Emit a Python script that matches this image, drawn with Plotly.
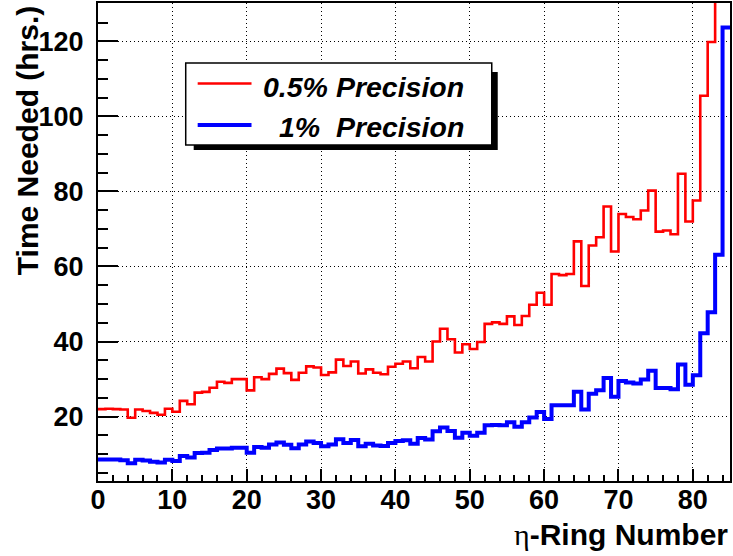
import plotly.graph_objects as go

# ---- data ----
ring_edges = list(range(0, 86))  # bin edges 0..85, one bin per eta-ring
time_05pct = [22.0, 22.1, 22.0, 21.9, 19.7, 21.9, 21.5, 21.0, 20.5, 22.1,
              21.3, 24.2, 23.3, 26.4, 26.6, 27.7, 29.3, 29.0, 30.0, 30.0,
              27.0, 30.5, 30.0, 31.4, 32.8, 31.6, 29.8, 31.7, 33.4, 33.1,
              31.1, 31.8, 35.2, 33.5, 34.7, 31.5, 32.6, 31.7, 31.3, 33.3,
              34.1, 34.7, 32.9, 35.9, 34.7, 40.0, 43.4, 40.6, 37.1, 39.3,
              38.0, 39.9, 44.7, 45.1, 44.7, 46.7, 44.4, 46.8, 49.8, 53.0,
              49.8, 58.0, 57.7, 58.0, 66.7, 54.8, 65.6, 67.8, 76.0, 64.0,
              74.0, 73.2, 72.6, 74.9, 80.2, 69.3, 69.6, 68.6, 84.7, 72.0,
              77.6, 105.5, 119.8, 158.0, 310.0]
time_1pct = [8.6, 8.6, 8.6, 8.4, 7.6, 8.5, 8.3, 8.0, 7.8, 8.5,
             8.2, 9.5, 9.1, 10.3, 10.4, 11.1, 11.5, 11.5, 11.7, 11.7,
             10.4, 11.9, 11.7, 12.6, 13.1, 12.5, 11.6, 12.6, 13.4, 13.0,
             12.1, 12.6, 14.0, 13.0, 13.8, 12.1, 12.8, 12.3, 12.2, 13.0,
             13.5, 13.7, 12.8, 14.3, 13.9, 16.1, 17.1, 16.2, 14.4, 15.7,
             14.9, 15.7, 17.7, 17.8, 17.7, 18.5, 17.3, 18.5, 19.8, 21.2,
             19.4, 23.0, 23.0, 23.0, 26.6, 21.9, 26.1, 27.0, 30.3, 25.3,
             29.5, 29.1, 28.8, 29.9, 32.2, 27.6, 27.6, 27.3, 33.9, 28.5,
             31.0, 42.2, 47.8, 63.1, 123.7]
series_names = ["0.5% Precision", "1%  Precision"]
x_ticks = [0, 10, 20, 30, 40, 50, 60, 70, 80]
y_ticks = [20, 40, 60, 80, 100, 120]

W, H = 733, 556
ML, MR, MT, MB = 98, 1, 3, 75
PW, PH = W - ML - MR, H - MT - MB

def px(xp):
    return (xp - ML) / PW

def py(yp):
    return (H - MB - yp) / PH

FONT = "Liberation Sans, Arial, Helvetica, sans-serif"

fig = go.Figure()
fig.add_trace(go.Scatter(x=ring_edges, y=time_05pct + [time_05pct[-1]],
                         mode="lines", line=dict(color="#ff0000", width=2.6, shape="hv"),
                         name=series_names[0], showlegend=False))
fig.add_trace(go.Scatter(x=ring_edges, y=time_1pct + [time_1pct[-1]],
                         mode="lines", line=dict(color="#0000ff", width=4, shape="hv"),
                         name=series_names[1], showlegend=False))

axis_common = dict(
    showline=True, linecolor="black", linewidth=2, mirror=True,
    showgrid=True, gridcolor="black", gridwidth=1, griddash="1px,3px",
    zeroline=False, ticks="inside", tickcolor="black", tickwidth=1.5,
    tickfont=dict(family=FONT, size=27, color="black", weight="bold"),
)

fig.update_layout(
    width=W, height=H,
    margin=dict(l=ML, r=MR, t=MT, b=MB),
    paper_bgcolor="white", plot_bgcolor="white",
    xaxis=dict(range=[0, 85], tickvals=x_ticks, ticklen=12,
               minor=dict(dtick=2, tick0=0, ticklen=6, ticks="inside",
                          tickcolor="black", tickwidth=1.5, showgrid=False),
               ticklabelstandoff=-6, **axis_common),
    yaxis=dict(range=[2.85, 130.2], tickvals=y_ticks, ticklen=20,
               minor=dict(dtick=5, tick0=0, ticklen=10, ticks="inside",
                          tickcolor="black", tickwidth=1.5, showgrid=False),
               ticklabelstandoff=7, **axis_common),
)

# axis titles
fig.add_annotation(text='<span style="font-family:Liberation Serif, DejaVu Serif, serif;'
                        'font-weight:normal">η</span>-Ring Number',
                   xref="paper", yref="paper",
                   x=1.0, y=py(534), xanchor="right", yanchor="middle", showarrow=False,
                   font=dict(family=FONT, size=30, color="black", weight="bold"))
fig.add_annotation(text="Time Needed (hrs.)", xref="paper", yref="paper",
                   x=px(27), y=1.0, xanchor="center", yanchor="top", textangle=-90,
                   showarrow=False,
                   font=dict(family=FONT, size=30, color="black", weight="bold"))

# legend box with shadow
fig.add_shape(type="rect", xref="paper", yref="paper",
              x0=px(194), x1=px(499), y0=py(150), y1=py(72),
              fillcolor="black", line=dict(width=0), layer="above")
fig.add_shape(type="rect", xref="paper", yref="paper",
              x0=px(186), x1=px(493), y0=py(145), y1=py(63),
              fillcolor="white", line=dict(color="black", width=1.5), layer="above")
fig.add_shape(type="line", xref="paper", yref="paper",
              x0=px(198), x1=px(252), y0=py(83.5), y1=py(83.5),
              line=dict(color="#ff0000", width=2.6), layer="above")
fig.add_shape(type="line", xref="paper", yref="paper",
              x0=px(198), x1=px(252), y0=py(125), y1=py(125),
              line=dict(color="#0000ff", width=4), layer="above")
for name, ycen in zip(series_names, [86.5, 126.5]):
    fig.add_annotation(text=name.replace("  ", "&nbsp; "), xref="paper", yref="paper",
                       x=px(467), y=py(ycen), xanchor="right", yanchor="middle",
                       showarrow=False,
                       font=dict(family=FONT, size=28.5, color="black", weight="bold",
                                 style="italic"))

fig.write_html("out.html")
